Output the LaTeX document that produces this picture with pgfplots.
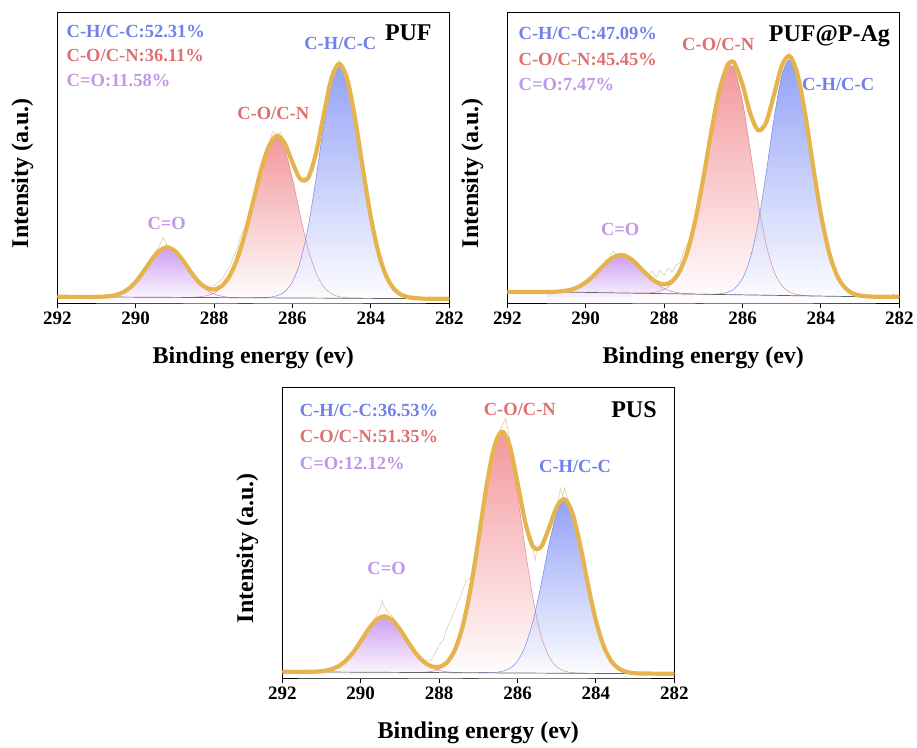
\documentclass[border=0pt]{standalone}
\usepackage{fontspec}
\setmainfont{Liberation Serif}
\usepackage{pgfplots}
\pgfplotsset{compat=1.18}
\definecolor{gold}{RGB}{229,180,78}
\definecolor{rawc}{RGB}{222,206,170}
\definecolor{blueF}{RGB}{128,146,245}
\definecolor{redF}{RGB}{240,135,140}
\definecolor{purF}{RGB}{196,140,240}
\definecolor{blueL}{RGB}{95,110,225}
\definecolor{redL}{RGB}{205,120,125}
\definecolor{purL}{RGB}{185,90,225}
\definecolor{blueT}{RGB}{112,128,230}
\definecolor{redT}{RGB}{222,112,112}
\definecolor{purT}{RGB}{192,150,232}
\pgfplotsset{
 xps/.style={
  scale only axis, width=392pt, height=291pt,
  x dir=reverse, xmin=282, xmax=292, ymin=0, ymax=291,
  xtick={282,284,286,288,290,292}, ytick=\empty,
  xtick pos=bottom, tick align=outside, major tick length=5pt,
  axis line style={line width=1.1pt, black},
  every tick/.style={black, line width=1.1pt},
  /pgf/number format/assume math mode=true,
  xticklabel style={font=\fontsize{19}{20}\selectfont\bfseries},
  xlabel={Binding energy (ev)},
  ylabel={Intensity (a.u.)},
  xlabel style={font=\fontsize{24}{26}\selectfont\bfseries, at={(axis description cs:0.5,-0.206)}, anchor=base},
  ylabel style={font=\fontsize{24}{26}\selectfont\bfseries, at={(axis description cs:-0.089,0.447)}, anchor=center},
 },
 fillB/.style={draw=none, top color=blueF, bottom color=white, fill opacity=0.85, smooth},
 fillR/.style={draw=none, top color=redF, bottom color=white, fill opacity=0.85, smooth},
 fillP/.style={draw=none, top color=purF, bottom color=white, fill opacity=0.85, smooth},
 lineB/.style={blueL, line width=0.5pt, smooth, opacity=0.8},
 lineR/.style={redL, line width=0.5pt, smooth, opacity=0.8},
 lineP/.style={purL, line width=0.5pt, smooth, opacity=0.8},
 raw/.style={rawc, line width=0.6pt},
 env/.style={gold, line width=4.2pt, smooth, line join=round},
 base/.style={black!60, line width=0.7pt},
}
\newcommand{\lab}{\fontsize{18.5}{20}\selectfont\bfseries}
\newcommand{\ttl}{\fontsize{24}{26}\selectfont\bfseries}
\begin{document}
\begin{tikzpicture}
\path[use as bounding box] (0,0) rectangle (917pt,747pt);
% ---------------- PUF ----------------
\begin{axis}[xps, at={(57.3pt,443.7pt)}, anchor=south west]
\addplot[fillP] coordinates {(291,6.4) (290.8,6.7) (290.6,7.5) (290.4,9.7) (290.2,14.0) (290,21.4) (289.8,31.8) (289.6,43.2) (289.4,52.4) (289.2,55.9) (289,52.3) (288.8,43.1) (288.6,31.5) (288.4,21.1) (288.2,13.6) (288,9.2) (287.8,7.0) (287.6,6.0) (287.4,5.7)} \closedcycle;
\addplot[fillR] coordinates {(288.8,5.9) (288.6,6.0) (288.4,6.4) (288.2,7.5) (288,10.3) (287.8,16.2) (287.6,27.2) (287.4,45.5) (287.2,71.3) (287,102.5) (286.8,133.6) (286.6,156.7) (286.4,165.4) (286.2,153.9) (286,124.3) (285.8,87.5) (285.6,54.2) (285.4,30.4) (285.2,16.3) (285,9.4) (284.8,6.5) (284.6,5.4) (284.4,5.1) (284.2,4.9)} \closedcycle;
\addplot[fillB] coordinates {(287,5.5) (286.8,5.6) (286.6,6.0) (286.4,7.5) (286.2,11.5) (286,21.6) (285.8,42.0) (285.6,76.5) (285.4,124.9) (285.2,178.4) (285,221.5) (284.8,238.1) (284.6,223.1) (284.4,183.9) (284.2,133.4) (284,85.8) (283.8,49.5) (283.6,26.4) (283.4,13.9) (283.2,8.1) (283,5.8) (282.8,5.0) (282.6,4.6)} \closedcycle;
\addplot[lineP] coordinates {(291,6.4) (290.8,6.7) (290.6,7.5) (290.4,9.7) (290.2,14.0) (290,21.4) (289.8,31.8) (289.6,43.2) (289.4,52.4) (289.2,55.9) (289,52.3) (288.8,43.1) (288.6,31.5) (288.4,21.1) (288.2,13.6) (288,9.2) (287.8,7.0) (287.6,6.0) (287.4,5.7)};
\addplot[lineR] coordinates {(288.8,5.9) (288.6,6.0) (288.4,6.4) (288.2,7.5) (288,10.3) (287.8,16.2) (287.6,27.2) (287.4,45.5) (287.2,71.3) (287,102.5) (286.8,133.6) (286.6,156.7) (286.4,165.4) (286.2,153.9) (286,124.3) (285.8,87.5) (285.6,54.2) (285.4,30.4) (285.2,16.3) (285,9.4) (284.8,6.5) (284.6,5.4) (284.4,5.1) (284.2,4.9)};
\addplot[lineB] coordinates {(287,5.5) (286.8,5.6) (286.6,6.0) (286.4,7.5) (286.2,11.5) (286,21.6) (285.8,42.0) (285.6,76.5) (285.4,124.9) (285.2,178.4) (285,221.5) (284.8,238.1) (284.6,223.1) (284.4,183.9) (284.2,133.4) (284,85.8) (283.8,49.5) (283.6,26.4) (283.4,13.9) (283.2,8.1) (283,5.8) (282.8,5.0) (282.6,4.6)};
\addplot[base] coordinates {(290.8,6.3) (283,4.7)};
\addplot[raw] coordinates {(292,6.8) (291.8,7.6) (291.6,6.2) (291.4,7.4) (291.2,6.3) (291,7.2) (290.8,6.6) (290.6,7.8) (290.4,10.2) (290.2,14.5) (290,22.5) (289.8,33.0) (289.6,46.0) (289.4,57.0) (289.3,66.0) (289.2,58.0) (289,54.0) (288.8,44.0) (288.6,32.5) (288.4,22.0) (288.2,17.0) (288,17.5) (287.8,24.0) (287.6,37.0) (287.4,56.0) (287.3,70.0) (287.2,75.0) (287,104.0) (286.8,136.0) (286.6,160.0) (286.5,172.0) (286.4,169.0) (286.3,171.0) (286.2,161.0) (286,141.0) (285.8,125.0) (285.6,126.0) (285.4,151.0) (285.2,190.0) (285,227.0) (284.8,243.0) (284.6,224.0) (284.4,184.0) (284.2,134.0) (284,86.0) (283.8,50.0) (283.6,27.0) (283.4,14.0) (283.2,8.5) (283,6.0) (282.6,4.8) (282,4.6)};
\addplot[env] coordinates {(292,6.5) (291.4,6.4) (291,6.4) (290.8,6.7) (290.6,7.5) (290.4,9.7) (290.2,14.0) (290,21.4) (289.8,31.8) (289.6,43.2) (289.4,52.4) (289.2,55.9) (289,52.3) (288.8,43.2) (288.6,31.7) (288.4,21.7) (288.2,15.4) (288,13.8) (287.8,17.5) (287.6,27.6) (287.4,45.6) (287.2,71.3) (287,102.5) (286.8,133.7) (286.6,157.3) (286.4,167.5) (286.2,160.1) (286,140.6) (285.8,124.2) (285.6,125.5) (285.4,150.1) (285.2,189.6) (285,225.8) (284.8,239.5) (284.6,223.5) (284.4,184.0) (284.2,133.4) (284,85.8) (283.8,49.5) (283.6,26.4) (283.4,13.9) (283.2,8.1) (283,5.8) (282.8,5.0) (282.6,4.6) (282,4.5)};
\node[anchor=base west, font=\lab, text=blueT] at (axis cs:291.85,265.6) {C-H/C-C:52.31\%};
\node[anchor=base west, font=\lab, text=redT] at (axis cs:291.85,241.6) {C-O/C-N:36.11\%};
\node[anchor=base west, font=\lab, text=purT] at (axis cs:291.85,216.6) {C=O:11.58\%};
\node[anchor=base east, font=\ttl] at (axis cs:282.36,263) {PUF};
\node[anchor=base, font=\lab, text=blueT] at (axis cs:284.78,254) {C-H/C-C};
\node[anchor=base, font=\lab, text=redT] at (axis cs:286.49,184) {C-O/C-N};
\node[anchor=base, font=\lab, text=purT] at (axis cs:289.21,74) {C=O};
\end{axis}
% ---------------- PUF@P-Ag ----------------
\begin{axis}[xps, at={(507.3pt,443.7pt)}, anchor=south west]
\addplot[fillP] coordinates {(291,11.3) (290.8,11.5) (290.6,12.1) (290.4,13.4) (290.2,16.1) (290,20.9) (289.8,27.7) (289.6,35.7) (289.4,43.2) (289.2,47.8) (289.1,48.3) (289,47.7) (288.8,42.9) (288.6,35.1) (288.4,26.8) (288.2,19.8) (288,14.8) (287.8,11.8) (287.6,10.3) (287.4,9.6) (287.2,9.3)} \closedcycle;
\addplot[fillR] coordinates {(288.8,10.2) (288.6,10.1) (288.4,10.4) (288.2,11.3) (288,13.8) (287.8,19.6) (287.6,31.3) (287.4,52.0) (287.2,83.6) (287,125.0) (286.8,170.7) (286.6,210.9) (286.4,234.5) (286.3,237.6) (286.2,233.4) (286,202.3) (285.8,152.5) (285.6,100.7) (285.4,59.3) (285.2,32.4) (285,17.9) (284.8,11.3) (284.6,8.7) (284.4,7.8) (284.2,7.3)} \closedcycle;
\addplot[fillB] coordinates {(287,9.1) (286.8,9.0) (286.6,9.4) (286.4,10.8) (286.3,12.3) (286.2,14.9) (286,24.9) (285.8,45.4) (285.6,80.5) (285.4,129.4) (285.2,183.6) (285,227.0) (284.8,243.7) (284.6,228.5) (284.4,188.7) (284.2,137.5) (284,89.1) (283.8,52.3) (283.6,28.8) (283.4,16.1) (283.2,10.1) (283,7.7) (282.8,6.9) (282.6,6.6)} \closedcycle;
\addplot[lineP] coordinates {(291,11.3) (290.8,11.5) (290.6,12.1) (290.4,13.4) (290.2,16.1) (290,20.9) (289.8,27.7) (289.6,35.7) (289.4,43.2) (289.2,47.8) (289.1,48.3) (289,47.7) (288.8,42.9) (288.6,35.1) (288.4,26.8) (288.2,19.8) (288,14.8) (287.8,11.8) (287.6,10.3) (287.4,9.6) (287.2,9.3)};
\addplot[lineR] coordinates {(288.8,10.2) (288.6,10.1) (288.4,10.4) (288.2,11.3) (288,13.8) (287.8,19.6) (287.6,31.3) (287.4,52.0) (287.2,83.6) (287,125.0) (286.8,170.7) (286.6,210.9) (286.4,234.5) (286.3,237.6) (286.2,233.4) (286,202.3) (285.8,152.5) (285.6,100.7) (285.4,59.3) (285.2,32.4) (285,17.9) (284.8,11.3) (284.6,8.7) (284.4,7.8) (284.2,7.3)};
\addplot[lineB] coordinates {(287,9.1) (286.8,9.0) (286.6,9.4) (286.4,10.8) (286.3,12.3) (286.2,14.9) (286,24.9) (285.8,45.4) (285.6,80.5) (285.4,129.4) (285.2,183.6) (285,227.0) (284.8,243.7) (284.6,228.5) (284.4,188.7) (284.2,137.5) (284,89.1) (283.8,52.3) (283.6,28.8) (283.4,16.1) (283.2,10.1) (283,7.7) (282.8,6.9) (282.6,6.6)};
\addplot[base] coordinates {(290.5,11.2) (283,6.6)};
\addplot[raw] coordinates {(292,11.5) (291,11.6) (290.6,12.5) (290.4,13.8) (290.2,16.5) (290,21.5) (289.8,28.5) (289.6,37.0) (289.4,45.5) (289.3,52.0) (289.2,48.5) (289,48.5) (288.8,43.5) (288.6,35.5) (288.4,29.0) (288.3,32.0) (288.2,26.0) (288.1,33.0) (288,28.0) (287.9,35.0) (287.8,31.0) (287.7,38.0) (287.6,40.0) (287.5,52.0) (287.4,60.0) (287.3,66.0) (287.2,86.0) (287,126.0) (286.8,171.0) (286.6,212.0) (286.4,238.0) (286.3,244.0) (286.2,240.0) (286,219.0) (285.8,190.0) (285.6,173.0) (285.4,181.0) (285.2,208.0) (285,238.0) (284.8,250.0) (284.6,230.0) (284.4,189.0) (284.2,138.0) (284,89.5) (283.8,52.5) (283.6,29.0) (283.4,16.3) (283.2,10.3) (283,7.9) (282.6,6.8) (282.2,7.0) (282.15,9.5) (282.1,6.8) (282,6.6)};
\addplot[env] coordinates {(292,11.2) (291,11.3) (290.8,11.5) (290.6,12.1) (290.4,13.4) (290.2,16.1) (290,20.9) (289.8,27.7) (289.6,35.7) (289.4,43.2) (289.2,47.8) (289.1,48.3) (289,47.7) (288.8,42.9) (288.6,35.2) (288.4,27.3) (288.2,21.3) (288,18.9) (287.8,21.9) (287.6,32.2) (287.4,52.3) (287.2,83.7) (287,125.0) (286.8,170.8) (286.6,211.5) (286.4,236.6) (286.3,241.3) (286.2,239.7) (286,218.8) (285.8,189.6) (285.6,173.0) (285.4,180.6) (285.2,208.0) (285,237.1) (284.8,247.3) (284.6,229.6) (284.4,189.0) (284.2,137.5) (284,89.1) (283.8,52.3) (283.6,28.8) (283.4,16.1) (283.2,10.1) (283,7.7) (282.8,6.9) (282.6,6.6) (282,6.6)};
\node[anchor=base west, font=\lab, text=blueT] at (axis cs:291.8,264) {C-H/C-C:47.09\%};
\node[anchor=base west, font=\lab, text=redT] at (axis cs:291.8,237.3) {C-O/C-N:45.45\%};
\node[anchor=base west, font=\lab, text=purT] at (axis cs:291.8,212.3) {C=O:7.47\%};
\node[anchor=base east, font=\ttl] at (axis cs:282.15,262) {PUF@P-Ag};
\node[anchor=base, font=\lab, text=redT] at (axis cs:286.62,252.3) {C-O/C-N};
\node[anchor=base, font=\lab, text=blueT] at (axis cs:283.56,212.3) {C-H/C-C};
\node[anchor=base, font=\lab, text=purT] at (axis cs:289.12,67.3) {C=O};
\end{axis}
% ---------------- PUS ----------------
\begin{axis}[xps, at={(282.3pt,68.7pt)}, anchor=south west]
\addplot[fillP] coordinates {(291.6,6.4) (291.4,6.5) (291.2,6.6) (291,7.1) (290.8,8.5) (290.6,11.4) (290.4,16.9) (290.2,25.5) (290,37.0) (289.8,49.1) (289.6,58.4) (289.4,62.0) (289.2,58.3) (289,48.9) (288.8,36.8) (288.6,25.2) (288.4,16.5) (288.2,10.9) (288,7.9) (287.8,6.5) (287.6,5.9) (287.4,5.7)} \closedcycle;
\addplot[fillR] coordinates {(288.8,5.9) (288.6,5.9) (288.4,6.1) (288.2,6.8) (288,9.2) (287.8,15.1) (287.6,27.8) (287.4,51.6) (287.2,88.8) (287,137.9) (286.8,189.7) (286.6,230.0) (286.4,245.4) (286.2,228.2) (286,183.8) (285.8,128.6) (285.6,78.7) (285.4,43.0) (285.2,21.9) (285,11.5) (284.8,7.2) (284.6,5.6) (284.4,5.1) (284.2,4.9)} \closedcycle;
\addplot[fillB] coordinates {(287,5.5) (286.8,5.6) (286.6,5.8) (286.4,6.9) (286.2,9.9) (286,17.3) (285.8,32.4) (285.6,57.9) (285.4,93.6) (285.2,133.1) (285,164.8) (284.8,177.1) (284.6,164.7) (284.4,133.0) (284.2,93.3) (284,57.6) (283.8,32.0) (283.6,16.8) (283.4,9.4) (283.2,6.2) (283,5.1) (282.8,4.8) (282.6,4.6)} \closedcycle;
\addplot[lineP] coordinates {(291.6,6.4) (291.4,6.5) (291.2,6.6) (291,7.1) (290.8,8.5) (290.6,11.4) (290.4,16.9) (290.2,25.5) (290,37.0) (289.8,49.1) (289.6,58.4) (289.4,62.0) (289.2,58.3) (289,48.9) (288.8,36.8) (288.6,25.2) (288.4,16.5) (288.2,10.9) (288,7.9) (287.8,6.5) (287.6,5.9) (287.4,5.7)};
\addplot[lineR] coordinates {(288.8,5.9) (288.6,5.9) (288.4,6.1) (288.2,6.8) (288,9.2) (287.8,15.1) (287.6,27.8) (287.4,51.6) (287.2,88.8) (287,137.9) (286.8,189.7) (286.6,230.0) (286.4,245.4) (286.2,228.2) (286,183.8) (285.8,128.6) (285.6,78.7) (285.4,43.0) (285.2,21.9) (285,11.5) (284.8,7.2) (284.6,5.6) (284.4,5.1) (284.2,4.9)};
\addplot[lineB] coordinates {(287,5.5) (286.8,5.6) (286.6,5.8) (286.4,6.9) (286.2,9.9) (286,17.3) (285.8,32.4) (285.6,57.9) (285.4,93.6) (285.2,133.1) (285,164.8) (284.8,177.1) (284.6,164.7) (284.4,133.0) (284.2,93.3) (284,57.6) (283.8,32.0) (283.6,16.8) (283.4,9.4) (283.2,6.2) (283,5.1) (282.8,4.8) (282.6,4.6)};
\addplot[base] coordinates {(291,6.3) (283,4.7)};
\addplot[raw] coordinates {(292,6.8) (291,7.4) (290.8,8.8) (290.6,11.8) (290.4,17.5) (290.2,26.5) (290,38.5) (289.8,51.0) (289.6,62.0) (289.5,70.0) (289.45,78.0) (289.4,72.0) (289.3,66.0) (289.2,62.0) (289,52.0) (288.8,39.0) (288.6,27.5) (288.4,18.5) (288.2,18.0) (288,33.0) (287.9,38.0) (287.8,50.0) (287.7,58.0) (287.6,68.0) (287.5,78.0) (287.4,88.0) (287.3,98.0) (287.2,100.0) (287.1,118.0) (287,140.0) (286.8,192.0) (286.6,233.0) (286.4,252.0) (286.3,260.0) (286.2,240.0) (286,197.0) (285.8,156.0) (285.6,128.0) (285.55,118.0) (285.5,130.0) (285.4,132.0) (285.2,151.0) (285,173.0) (284.9,190.0) (284.85,182.0) (284.8,190.0) (284.7,178.0) (284.6,167.0) (284.4,134.0) (284.2,94.0) (284,58.0) (283.8,32.5) (283.6,17.0) (283.4,9.6) (283.2,6.4) (283,5.3) (282,4.7)};
\addplot[env] coordinates {(292,6.5) (291.6,6.4) (291.4,6.5) (291.2,6.6) (291,7.1) (290.8,8.5) (290.6,11.4) (290.4,16.9) (290.2,25.5) (290,37.0) (289.8,49.1) (289.6,58.4) (289.4,62.0) (289.2,58.3) (289,48.9) (288.8,36.8) (288.6,25.3) (288.4,16.8) (288.2,12.0) (288,11.4) (287.8,15.9) (287.6,28.1) (287.4,51.7) (287.2,88.8) (287,137.9) (286.8,189.8) (286.6,230.4) (286.4,246.9) (286.2,232.8) (286,195.8) (285.8,155.7) (285.6,131.4) (285.4,131.4) (285.2,149.9) (285,171.2) (284.8,179.2) (284.6,165.3) (284.4,133.1) (284.2,93.3) (284,57.6) (283.8,32.0) (283.6,16.8) (283.4,9.4) (283.2,6.2) (283,5.1) (282.8,4.8) (282,4.5)};
\node[anchor=base west, font=\lab, text=blueT] at (axis cs:291.64,261.6) {C-H/C-C:36.53\%};
\node[anchor=base west, font=\lab, text=redT] at (axis cs:291.64,235.6) {C-O/C-N:51.35\%};
\node[anchor=base west, font=\lab, text=purT] at (axis cs:291.64,209) {C=O:12.12\%};
\node[anchor=base east, font=\ttl] at (axis cs:282.36,261) {PUS};
\node[anchor=base, font=\lab, text=redT] at (axis cs:285.94,262.3) {C-O/C-N};
\node[anchor=base, font=\lab, text=blueT] at (axis cs:284.53,205.6) {C-H/C-C};
\node[anchor=base, font=\lab, text=purT] at (axis cs:289.34,104) {C=O};
\end{axis}
\end{tikzpicture}
\end{document}
